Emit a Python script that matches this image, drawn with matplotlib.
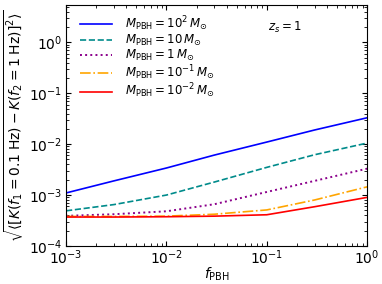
import numpy as np
import matplotlib
matplotlib.use("Agg")
import matplotlib.pyplot as plt

f_pbh = [1e-3, 3e-3, 1e-2, 3e-2, 1e-1, 3e-1, 1e0]

k_m100 = [1.1e-3, 1.9e-3, 3.4e-3, 6.1e-3, 1.1e-2, 1.9e-2, 3.3e-2]
k_m10 = [4.9e-4, 6.5e-4, 1.0e-3, 1.8e-3, 3.5e-3, 6.2e-3, 1.05e-2]
k_m1 = [3.9e-4, 4.2e-4, 4.8e-4, 6.6e-4, 1.15e-3, 1.9e-3, 3.3e-3]
k_m01 = [3.8e-4, 3.8e-4, 3.85e-4, 4.2e-4, 5.1e-4, 8.0e-4, 1.45e-3]
k_m001 = [3.7e-4, 3.7e-4, 3.75e-4, 3.85e-4, 4.1e-4, 5.9e-4, 9.0e-4]

labels = [r'$M_{\rm PBH} = 10^2\,M_{\odot}$',
          r'$M_{\rm PBH} = 10\,M_{\odot}$',
          r'$M_{\rm PBH} = 1\,M_{\odot}$',
          r'$M_{\rm PBH} = 10^{-1}\,M_{\odot}$',
          r'$M_{\rm PBH} = 10^{-2}\,M_{\odot}$']

fig = plt.figure(figsize=(3.82, 2.84), dpi=100)
ax = fig.add_axes([0.173, 0.134, 0.788, 0.848])

ax.plot(f_pbh, k_m100, color='blue', ls='-', lw=1.2, label=labels[0])
ax.plot(f_pbh, k_m10, color='darkcyan', ls='--', lw=1.2, label=labels[1])
ax.plot(f_pbh, k_m1, color='darkmagenta', ls=':', lw=1.4, label=labels[2])
ax.plot(f_pbh, k_m01, color='orange', ls='-.', lw=1.2, label=labels[3])
ax.plot(f_pbh, k_m001, color='red', ls='-', lw=1.2, label=labels[4])

ax.set_xscale('log')
ax.set_yscale('log')
ax.set_xlim(1e-3, 1e0)
ax.set_ylim(1e-4, 5.4)

ax.tick_params(which='both', direction='in', top=True, right=True, labelsize=10)
ax.tick_params(axis='x', which='both', pad=1.5)
ax.tick_params(axis='y', which='both', pad=2.5)
ax.set_xlabel(r'$f_{\rm PBH}$', fontsize=10, labelpad=-1)
ax.set_ylabel(r'$\sqrt{\langle [K(f_1=0.1\;\mathrm{Hz}) - K(f_2=1\;\mathrm{Hz})]^2 \rangle}$',
              fontsize=10, labelpad=2)

ax.text(0.67, 0.908, r'$z_s = 1$', transform=ax.transAxes, fontsize=8.5, va='center')
ax.legend(loc='upper left', bbox_to_anchor=(0.03, 0.982), borderaxespad=0,
          frameon=False, fontsize=8.5, handlelength=2.7, handletextpad=1.1,
          labelspacing=0)

fig.savefig('out.png', dpi=100)
